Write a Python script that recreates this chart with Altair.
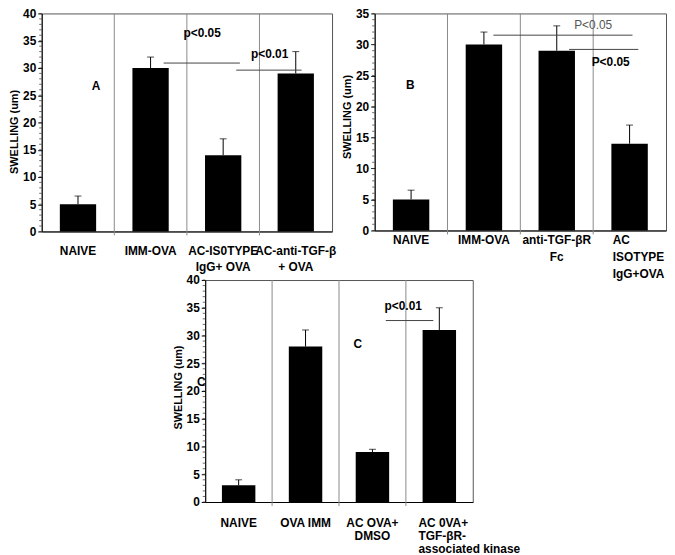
import altair as alt
import pandas as pd

FONT = "Liberation Sans"
YTITLE = "SWELLING (um)"

# ---------------- data ----------------
a_cats = ["NAIVE", "IMM-OVA", "AC-IS0TYPE|IgG+ OVA", "AC-anti-TGF-β|+ OVA"]
a_vals = [5, 30, 14, 29]
a_errs = [1.5, 2, 3, 4]
a_ticks = [0, 5, 10, 15, 20, 25, 30, 35, 40]

b_cats = ["NAIVE", "IMM-OVA", "anti-TGF-βR|Fc", "AC|ISOTYPE|IgG+OVA"]
b_vals = [5, 30, 29, 14]
b_errs = [1.5, 2, 4, 3]
b_ticks = [0, 5, 10, 15, 20, 25, 30, 35]

c_cats = ["NAIVE", "OVA IMM", "AC OVA+|DMSO", "AC 0VA+|TGF-βR-|associated kinase"]
c_vals = [3, 28, 9, 31]
c_errs = [1, 3, 0.5, 4]
c_ticks = [0, 5, 10, 15, 20, 25, 30, 35, 40]

# annotations (x in band units 0..4, y in data units)
a_text = ["A", "p<0.05", "p<0.01"]
a_text_x = [0.75, 2.21, 3.14]
a_text_y = [26.7, 36.4, 32.5]
a_text_w = ["bold", "bold", "bold"]
a_line_x1 = [1.68, 2.68]
a_line_x2 = [2.73, 3.58]
a_line_y = [30.9, 29.6]

b_text = ["B", "P<0.05", "P<0.05"]
b_text_x = [0.49, 3.0, 3.24]
b_text_y = [23.5, 33.1, 27.2]
b_text_w = ["bold", "normal", "bold"]
b_line_x1 = [1.63, 2.67]
b_line_x2 = [3.54, 3.62]
b_line_y = [31.5, 29.2]

c_text = ["C", "C", "p<0.01"]
c_text_x = [2.28, -0.06, 2.96]
c_text_y = [28.4, 21.6, 35.4]
c_text_w = ["bold", "bold", "bold"]
c_line_x1 = [2.70]
c_line_x2 = [3.41]
c_line_y = [32.7]

dividers = [1, 2, 3]
minor = [i for i in range(0, 41)]


def panel(cats, vals, errs, ticks, ymax, width, height,
          texts, tx, ty, tw, lx1, lx2, ly,
          lab_pad, lab_lh, special, special_off, title_y, title_pad):
    df = pd.DataFrame({"cat": cats, "val": vals,
                       "top": [v + e for v, e in zip(vals, errs)]})
    base = alt.Chart(df)
    xaxis = alt.Axis(
        title=None, labelExpr="split(datum.label, '|')", labelAngle=0,
        labelFont=FONT, labelFontSize=12, labelFontWeight="bold",
        labelColor="black", ticks=False, domainColor="black",
        labelPadding=lab_pad, labelLineHeight=lab_lh, labelOverlap=False,
        labelAlign={"condition": {"test": f"datum.value == '{special}'", "value": "left"},
                    "value": "center"},
        labelOffset={"condition": {"test": f"datum.value == '{special}'", "value": special_off},
                     "value": 0},
    )
    xb = alt.X("cat:N", sort=cats,
               scale=alt.Scale(paddingInner=0.5, paddingOuter=0.25), axis=xaxis)
    yscale = alt.Scale(domain=[0, ymax], nice=False)
    yaxis = alt.Axis(
        values=ticks, grid=False, labelFont=FONT, labelFontSize=12,
        labelFontWeight="bold", labelColor="black", tickSize=4,
        tickColor="black", domainColor="black", labelPadding=2,
        titleFont=FONT, titleFontSize=11, titleFontWeight="bold",
        titleColor="black", titleY=title_y, titlePadding=title_pad,
    )

    def ydef(f):
        return alt.Y(f, scale=yscale, axis=yaxis, title=YTITLE)

    bars = base.mark_bar(color="black").encode(x=xb, y=ydef("val:Q"))
    err = base.mark_rule(color="black", strokeWidth=1).encode(
        x=xb, y=ydef("val:Q"), y2="top:Q")
    cap = base.mark_tick(color="black", size=7, thickness=1).encode(
        x=xb, y=ydef("top:Q"))
    inner = alt.layer(bars, err, cap)

    xq = alt.Scale(domain=[0, 4], nice=False, zero=False)

    div = alt.Chart(pd.DataFrame({"x": dividers})).mark_rule(
        color="#8a8a8a", strokeWidth=1).encode(
        x=alt.X("x:Q", scale=xq, axis=None),
        y=alt.value(0), y2=alt.value(height + 4))
    mt = alt.Chart(pd.DataFrame({"m": [m for m in minor if m <= ymax]})).mark_rule(
        color="#444", strokeWidth=0.8).encode(
        y=ydef("m:Q"), x=alt.value(-2.5), x2=alt.value(0))
    lines = alt.Chart(pd.DataFrame({"x1": lx1, "x2": lx2, "y": ly})).mark_rule(
        color="#444", strokeWidth=1).encode(
        x=alt.X("x1:Q", scale=xq, axis=None), x2="x2:Q", y=ydef("y:Q"))
    tdf = pd.DataFrame({"t": texts, "x": tx, "y": ty, "w": tw})
    txt_bold = alt.Chart(tdf[tdf.w == "bold"]).mark_text(
        font=FONT, fontSize=12, fontWeight="bold", color="black").encode(
        x=alt.X("x:Q", scale=xq, axis=None), y=ydef("y:Q"), text="t:N")
    layers = [div, mt, inner, lines, txt_bold]
    if (tdf.w == "normal").any():
        txt_norm = alt.Chart(tdf[tdf.w == "normal"]).mark_text(
            font=FONT, fontSize=12, fontWeight="normal", color="#555").encode(
            x=alt.X("x:Q", scale=xq, axis=None), y=ydef("y:Q"), text="t:N")
        layers.append(txt_norm)
    return alt.layer(*layers).resolve_scale(x="independent").properties(
        width=width, height=height)


A = panel(a_cats, a_vals, a_errs, a_ticks, 40, 293, 220,
          a_text, a_text_x, a_text_y, a_text_w, a_line_x1, a_line_x2, a_line_y,
          14, 16, "zzz", 0, 119, 3)
B = panel(b_cats, b_vals, b_errs, b_ticks, 35, 294, 219,
          b_text, b_text_x, b_text_y, b_text_w, b_line_x1, b_line_x2, b_line_y,
          4, 17, "AC|ISOTYPE|IgG+OVA", -17, 104, 3)
C = panel(c_cats, c_vals, c_errs, c_ticks, 40, 270, 224,
          c_text, c_text_x, c_text_y, c_text_w, c_line_x1, c_line_x2, c_line_y,
          16, 13, "AC 0VA+|TGF-βR-|associated kinase", -21, 108, 3)

spacer = alt.Chart(pd.DataFrame({"v": [0]})).mark_point(opacity=0).encode(
    x=alt.value(0), y=alt.value(0)).properties(
    width=165, height=10, view=alt.ViewBackground(stroke="transparent"))

top = alt.hconcat(A, B, spacing=43, bounds="flush")
bottom = alt.hconcat(spacer, C, spacing=0, bounds="flush")
chart = alt.vconcat(top, bottom, spacing=-25).properties(
    padding={"left": 0, "top": -4, "right": 0, "bottom": 0}
).configure_view(stroke="#555", strokeWidth=1)

chart.save("out.html", embed_options={"renderer": "svg", "actions": False})
